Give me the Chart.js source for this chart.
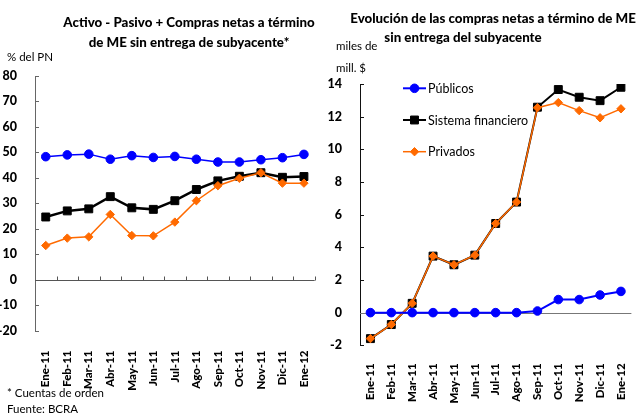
<!DOCTYPE html>
<html><head><meta charset="utf-8">
<script src="https://cdn.jsdelivr.net/npm/chart.js@4.4.1/dist/chart.umd.min.js"></script>
<style>
html,body{margin:0;padding:0;width:637px;height:414px;overflow:hidden;background:#fff;font-family:Lato,"DejaVu Sans",sans-serif;position:relative;}
.t{position:absolute;white-space:nowrap;color:#000;line-height:1;}
.tb{font-weight:900;font-size:13.3px;transform:translate(-50%,-50%);}
.s{font-size:11.5px;transform:translateY(-50%);}
canvas{position:absolute;top:0;}
</style></head><body>
<canvas id="c1" width="330" height="414" style="left:0"></canvas>
<canvas id="c2" width="320" height="414" style="left:325px"></canvas>
<div class="t tb" style="left:189px;top:23px">Activo - Pasivo + Compras netas a término</div>
<div class="t tb" style="left:189px;top:43px">de ME sin entrega de subyacente*</div>
<div class="t tb" style="left:493px;top:19px">Evolución de las compras netas a término de ME</div>
<div class="t tb" style="left:463px;top:38px">sin entrega del subyacente</div>
<div class="t s" style="left:7px;top:57px">% del PN</div>
<div class="t s" style="left:336px;top:46px">miles de</div>
<div class="t s" style="left:336px;top:68px">mill. $</div>
<div class="t s" style="left:7px;top:393px">* Cuentas de orden</div>
<div class="t s" style="left:7px;top:409px">Fuente: BCRA</div>
<script>
const categories = ['Ene-11','Feb-11','Mar-11','Abr-11','May-11','Jun-11','Jul-11','Ago-11','Sep-11','Oct-11','Nov-11','Dic-11','Ene-12'];
const seriesNames = ['Públicos','Sistema financiero','Privados'];
// Left chart: % del PN
const pnPublicos = [48.3,49.0,49.3,47.3,48.7,48.0,48.4,47.3,46.2,46.2,47.1,47.9,49.2];
const pnSistema  = [24.6,27.0,27.8,32.6,28.2,27.6,31.0,35.4,38.8,40.6,42.0,40.2,40.5];
const pnPrivados = [13.4,16.3,16.8,25.6,17.3,17.2,22.6,31.0,36.9,39.8,42.0,37.9,37.9];
// Right chart: miles de mill. $
const cPublicos = [0,0,0,0,0,0,0,0,0.1,0.8,0.8,1.08,1.3];
const cSistema  = [-1.59,-0.73,0.57,3.46,2.93,3.52,5.46,6.77,12.58,13.66,13.19,12.98,13.8];
const cPrivados = [-1.59,-0.73,0.57,3.46,2.93,3.52,5.46,6.77,12.55,12.86,12.37,11.93,12.48];
const leftTicks = {min:-20,max:80,step:10};
const rightTicks = {min:-2,max:14,step:2};

const BLUE='#0000ff', BLACK='#000000', ORANGE='#ff6a00';
const FONT='Lato, "DejaVu Sans", sans-serif';

const deco = {
  id:'deco',
  beforeDatasetsDraw(chart, args, o){
    const {ctx, chartArea:a, scales:{x,y}} = chart;
    ctx.save();
    ctx.lineWidth=1;
    ctx.strokeStyle=o.axisColor;
    y.ticks.forEach(t=>{
      const py=Math.round(y.getPixelForValue(t.value))+0.5;
      ctx.beginPath();ctx.moveTo(a.left,py);ctx.lineTo(a.left+o.tickLen,py);ctx.stroke();
    });
    const zy=Math.round(y.getPixelForValue(0))+0.5;
    ctx.strokeStyle=o.zeroColor;
    ctx.beginPath();ctx.moveTo(a.left,zy);ctx.lineTo(a.right,zy);ctx.stroke();
    if(o.catTicks){
      const n=chart.data.labels.length;
      for(let i=1;i<=n;i++){
        let px = i<n ? (x.getPixelForValue(i)+x.getPixelForValue(i-1))/2 : a.right;
        px=Math.round(px)+0.5;
        ctx.beginPath();ctx.moveTo(px,zy);ctx.lineTo(px,zy-4);ctx.stroke();
      }
    }
    ctx.restore();
  },
  afterDraw(chart, args, o){
    if(!o.legend) return;
    const {ctx, chartArea:a} = chart;
    ctx.save();
    chart.data.datasets.forEach((ds,i)=>{
      const yy=a.top+o.legendTop+i*o.legendGap;
      const x0=a.left+o.legendLeft;
      ctx.strokeStyle=ds.borderColor;ctx.lineWidth=ds.borderWidth;
      ctx.beginPath();ctx.moveTo(x0,yy);ctx.lineTo(x0+23,yy);ctx.stroke();
      ctx.fillStyle=ds.pointBackgroundColor;ctx.strokeStyle=ds.pointBorderColor;ctx.lineWidth=ds.pointBorderWidth;
      Chart.helpers.drawPoint(ctx,{pointStyle:ds.pointStyle,radius:ds.pointRadius,borderWidth:ds.pointBorderWidth,rotation:0},x0+11.5,yy);
      ctx.fillStyle='#000';ctx.font='12.5px '+FONT;ctx.textBaseline='middle';ctx.textAlign='left';
      ctx.fillText(ds.label,x0+25,yy+0.5);
    });
    ctx.restore();
  }
};

function ds(label,data,color,style,radius,lw,order){
  return {label,data,borderColor:color,backgroundColor:color,pointBackgroundColor:color,pointBorderColor:color,
    pointBorderWidth:1,borderWidth:lw,pointStyle:style,pointRadius:radius,pointHoverRadius:radius,tension:0,order};
}

function make(id, data, tk, geo, decoOpts){
  return new Chart(document.getElementById(id),{
    type:'line',
    data:{labels:categories,datasets:data},
    options:{
      responsive:false,animation:false,devicePixelRatio:1,
      layout:{padding:{top:geo.top,right:geo.right,left:0,bottom:0}},
      plugins:{legend:{display:false},tooltip:{enabled:false},title:{display:false},deco:decoOpts},
      scales:{
        x:{type:'category',offset:true,
          grid:{display:false},border:{display:false},
          ticks:{color:'#000',font:{family:FONT,size:11.5,weight:'900'},minRotation:90,maxRotation:90,padding:geo.xpad,autoSkip:false},
          afterFit(s){s.height=geo.xh;}
        },
        y:{min:tk.min,max:tk.max,
          grid:{display:false},border:{display:true,color:decoOpts.axisColor,width:1},
          ticks:{stepSize:tk.step,color:'#000',font:{family:FONT,size:12.5,weight:'900'},padding:geo.ypad},
          afterFit(s){s.width=35;}
        }
      }
    },
    plugins:[deco]
  });
}

make('c1',[
  ds(seriesNames[0],pnPublicos,BLUE,'circle',4.3,1.5,1),
  ds(seriesNames[1],pnSistema,BLACK,'rect',5.6,2.5,3),
  ds(seriesNames[2],pnPrivados,ORANGE,'rectRot',4.2,1.5,2)
],leftTicks,{top:76,right:7,xh:83.5,xpad:12,ypad:10},{axisColor:'#666',zeroColor:'#555',tickLen:4,catTicks:true,legend:false});

make('c2',[
  ds(seriesNames[0],cPublicos,BLUE,'circle',4.3,2,1),
  ds(seriesNames[1],cSistema,BLACK,'rect',5.6,2,3),
  ds(seriesNames[2],cPrivados,ORANGE,'rectRot',4.2,1.5,2)
],rightTicks,{top:84,right:5.5,xh:68.7,xpad:10,ypad:10},{axisColor:'#111',zeroColor:'#777',tickLen:4,catTicks:false,legend:true,legendLeft:43,legendTop:4.3,legendGap:31.7});
</script>
</body></html>
